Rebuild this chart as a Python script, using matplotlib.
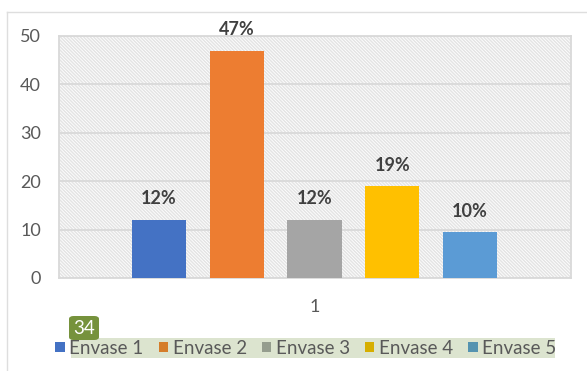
import numpy as np
import matplotlib
import matplotlib.pyplot as plt
from matplotlib.patches import Rectangle, FancyBboxPatch
from matplotlib.lines import Line2D

matplotlib.use('Agg')
plt.rcParams['font.family'] = ['Lato', 'DejaVu Sans']
plt.rcParams['hatch.color'] = '#e4e4e4'
plt.rcParams['hatch.linewidth'] = 1.1

series = ["Envase 1", "Envase 2", "Envase 3", "Envase 4", "Envase 5"]
values = [12, 47, 12, 19, 9.5]
colors = ['#4472c4', '#ed7d31', '#a5a5a5', '#ffc000', '#5b9bd5']
legend_colors = ['#4472c4', '#d57d2a', '#959d8e', '#d6ae00', '#5593b0']
category = "1"
yticks = [0, 10, 20, 30, 40, 50]

TEXT = '#595959'

fig = plt.figure(figsize=(5.87, 3.71), dpi=100)
ax = fig.add_axes([59 / 587, 1 - 278 / 371, 512 / 587, 242 / 371])

# hatched plot area background
ax.add_patch(Rectangle((0, 0), 1, 1, transform=ax.transAxes, facecolor='white',
                       edgecolor='#e4e4e4', hatch='\\' * 10, linewidth=0, zorder=0))

x = np.arange(len(values))
ax.bar(x, values, width=0.7, color=colors, zorder=3)

for xi, v in zip(x, values):
    ax.annotate(f"{v:.0f}%", xy=(xi, v), xytext=(0, 9), textcoords='offset points',
                ha='center', va='bottom', fontsize=13, fontweight='bold',
                color='#404040', zorder=4)

ax.set_xlim(-1.286, 5.30)
ax.set_ylim(0, 50)
ax.set_yticks(yticks)
ax.set_xticks([2])
ax.set_xticklabels([category])
ax.yaxis.grid(True, color='#d9d9d9', linewidth=1.3, zorder=1)
ax.set_axisbelow(True)
ax.tick_params(axis='both', length=0, labelsize=13, colors=TEXT)
ax.tick_params(axis='y', pad=13)
ax.tick_params(axis='x', pad=15)
for s in ax.spines.values():
    s.set_color('#d9d9d9')
    s.set_linewidth(1.3)

# outer chart frame
fig.add_artist(Line2D([7 / 587, 1], [1 - 12 / 371] * 2, color='#dedede', lw=1))
fig.add_artist(Line2D([7 / 587] * 2, [0, 1 - 12 / 371], color='#dedede', lw=1))

# legend strip background
fig.add_artist(Rectangle((71 / 587, 1 - 358 / 371), 484 / 587, 20 / 371,
                         transform=fig.transFigure, facecolor='#dce4cf',
                         edgecolor='none', zorder=0))

handles = [Rectangle((0, 0), 1, 1, facecolor=c) for c in legend_colors]
fig.legend(handles, series, loc='center', bbox_to_anchor=(306 / 587, 1 - 348 / 371),
           ncol=5, frameon=False, fontsize=13.5, handlelength=0.5, handleheight=0.5,
           handletextpad=0.25, columnspacing=0.8, labelcolor=TEXT)

# page number badge
fig.add_artist(FancyBboxPatch((69 / 587, 1 - 340 / 371), 30 / 587, 24 / 371,
                              boxstyle='round,pad=0,rounding_size=0.008',
                              transform=fig.transFigure, facecolor='#76923c',
                              edgecolor='none', zorder=5))
fig.text(84 / 587, 1 - 329 / 371, "34", ha='center', va='center', color='white',
         fontsize=13.5, zorder=6)

fig.savefig("out.png", dpi=100)
